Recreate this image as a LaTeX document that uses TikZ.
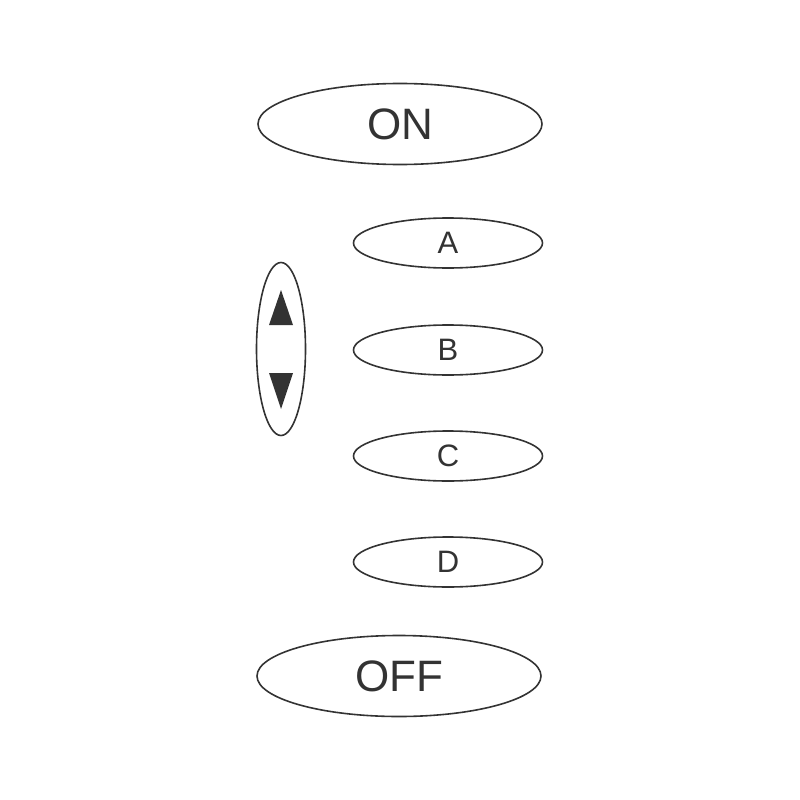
\documentclass[tikz,border=0pt]{standalone}
\usepackage{fontspec}
\setmainfont{Liberation Sans}
\usepackage{tikz}
\usetikzlibrary{positioning, shapes.geometric}

\definecolor{ink}{HTML}{333333}

\begin{document}
\begin{tikzpicture}[x=1pt,y=-1pt,
    bigkey/.style={ellipse, draw=ink, line width=1.6pt, inner sep=0pt,
      minimum width=284pt, minimum height=81pt, text=ink, font=\fontsize{44}{44}\selectfont},
    smallkey/.style={ellipse, draw=ink, line width=1.6pt, inner sep=0pt,
      minimum width=189pt, minimum height=50pt, text=ink, font=\fontsize{31}{31}\selectfont}]
  \useasboundingbox (0,0) rectangle (800,800);
  % Power keys
  \node[bigkey] (on)  at (400,124) {ON};
  \node[bigkey] (off) at (399,676) {OFF};
  % Channel keys
  \foreach \name/\y in {A/243,B/350,C/456,D/562}
    \node[smallkey] (key\name) at (448,\y) {\name};
  % Up/down slider
  \node[ellipse, draw=ink, line width=1.6pt, inner sep=0pt,
    minimum width=49pt, minimum height=173pt] (slider) at (281,349) {};
  % Arrows
  \fill[ink] (slider.center) ++(0,-59) -- ++(12,35) -- ++(-24,0) -- cycle;
  \fill[ink] (slider.center) ++(0,60) -- ++(12,-36) -- ++(-24,0) -- cycle;
\end{tikzpicture}
\end{document}
